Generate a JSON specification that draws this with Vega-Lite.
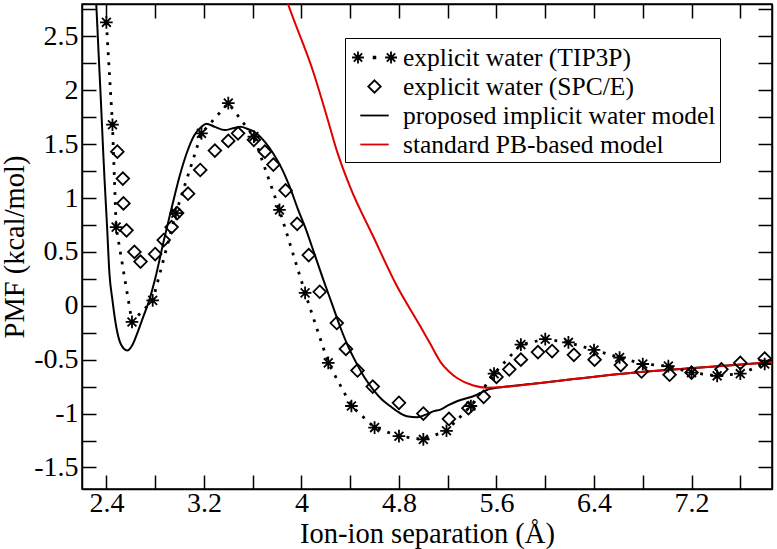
{
  "$schema": "https://vega.github.io/schema/vega-lite/v6.json",
  "width": 690,
  "height": 485,
  "autosize": {"type": "none"},
  "padding": {"left": 82, "top": 4, "right": 5, "bottom": 60},
  "background": "white",
  "config": {
    "font": "Liberation Serif",
    "view": {"stroke": "black", "strokeWidth": 1.5},
    "axis": {"grid": false}
  },
  "data": {"values": [
    {"series": "explicit water (TIP3P)", "x": 2.40, "y": 2.63},
    {"series": "explicit water (TIP3P)", "x": 2.45, "y": 1.68},
    {"series": "explicit water (TIP3P)", "x": 2.48, "y": 0.73},
    {"series": "explicit water (TIP3P)", "x": 2.61, "y": -0.15},
    {"series": "explicit water (TIP3P)", "x": 2.78, "y": 0.05},
    {"series": "explicit water (TIP3P)", "x": 2.97, "y": 0.86},
    {"series": "explicit water (TIP3P)", "x": 3.18, "y": 1.60},
    {"series": "explicit water (TIP3P)", "x": 3.40, "y": 1.88},
    {"series": "explicit water (TIP3P)", "x": 3.61, "y": 1.57},
    {"series": "explicit water (TIP3P)", "x": 3.82, "y": 0.89},
    {"series": "explicit water (TIP3P)", "x": 4.03, "y": 0.12},
    {"series": "explicit water (TIP3P)", "x": 4.22, "y": -0.53},
    {"series": "explicit water (TIP3P)", "x": 4.41, "y": -0.93},
    {"series": "explicit water (TIP3P)", "x": 4.60, "y": -1.13},
    {"series": "explicit water (TIP3P)", "x": 4.80, "y": -1.21},
    {"series": "explicit water (TIP3P)", "x": 5.00, "y": -1.24},
    {"series": "explicit water (TIP3P)", "x": 5.19, "y": -1.16},
    {"series": "explicit water (TIP3P)", "x": 5.39, "y": -0.93},
    {"series": "explicit water (TIP3P)", "x": 5.58, "y": -0.63},
    {"series": "explicit water (TIP3P)", "x": 5.80, "y": -0.36},
    {"series": "explicit water (TIP3P)", "x": 6.00, "y": -0.31},
    {"series": "explicit water (TIP3P)", "x": 6.19, "y": -0.34},
    {"series": "explicit water (TIP3P)", "x": 6.40, "y": -0.41},
    {"series": "explicit water (TIP3P)", "x": 6.61, "y": -0.48},
    {"series": "explicit water (TIP3P)", "x": 6.80, "y": -0.54},
    {"series": "explicit water (TIP3P)", "x": 7.01, "y": -0.56},
    {"series": "explicit water (TIP3P)", "x": 7.20, "y": -0.62},
    {"series": "explicit water (TIP3P)", "x": 7.41, "y": -0.65},
    {"series": "explicit water (TIP3P)", "x": 7.60, "y": -0.63},
    {"series": "explicit water (TIP3P)", "x": 7.80, "y": -0.54},

    {"series": "explicit water (SPC/E)", "x": 2.49, "y": 1.43},
    {"series": "explicit water (SPC/E)", "x": 2.535, "y": 1.18},
    {"series": "explicit water (SPC/E)", "x": 2.54, "y": 0.95},
    {"series": "explicit water (SPC/E)", "x": 2.565, "y": 0.70},
    {"series": "explicit water (SPC/E)", "x": 2.63, "y": 0.50},
    {"series": "explicit water (SPC/E)", "x": 2.68, "y": 0.41},
    {"series": "explicit water (SPC/E)", "x": 2.80, "y": 0.48},
    {"series": "explicit water (SPC/E)", "x": 2.87, "y": 0.61},
    {"series": "explicit water (SPC/E)", "x": 2.935, "y": 0.73},
    {"series": "explicit water (SPC/E)", "x": 2.98, "y": 0.86},
    {"series": "explicit water (SPC/E)", "x": 3.07, "y": 1.04},
    {"series": "explicit water (SPC/E)", "x": 3.17, "y": 1.26},
    {"series": "explicit water (SPC/E)", "x": 3.29, "y": 1.44},
    {"series": "explicit water (SPC/E)", "x": 3.40, "y": 1.53},
    {"series": "explicit water (SPC/E)", "x": 3.48, "y": 1.60},
    {"series": "explicit water (SPC/E)", "x": 3.61, "y": 1.54},
    {"series": "explicit water (SPC/E)", "x": 3.70, "y": 1.43},
    {"series": "explicit water (SPC/E)", "x": 3.77, "y": 1.31},
    {"series": "explicit water (SPC/E)", "x": 3.87, "y": 1.07},
    {"series": "explicit water (SPC/E)", "x": 3.965, "y": 0.76},
    {"series": "explicit water (SPC/E)", "x": 4.06, "y": 0.47},
    {"series": "explicit water (SPC/E)", "x": 4.15, "y": 0.13},
    {"series": "explicit water (SPC/E)", "x": 4.29, "y": -0.16},
    {"series": "explicit water (SPC/E)", "x": 4.365, "y": -0.40},
    {"series": "explicit water (SPC/E)", "x": 4.46, "y": -0.60},
    {"series": "explicit water (SPC/E)", "x": 4.585, "y": -0.75},
    {"series": "explicit water (SPC/E)", "x": 4.80, "y": -0.90},
    {"series": "explicit water (SPC/E)", "x": 5.00, "y": -1.00},
    {"series": "explicit water (SPC/E)", "x": 5.21, "y": -1.05},
    {"series": "explicit water (SPC/E)", "x": 5.37, "y": -0.95},
    {"series": "explicit water (SPC/E)", "x": 5.495, "y": -0.845},
    {"series": "explicit water (SPC/E)", "x": 5.60, "y": -0.66},
    {"series": "explicit water (SPC/E)", "x": 5.705, "y": -0.59},
    {"series": "explicit water (SPC/E)", "x": 5.80, "y": -0.50},
    {"series": "explicit water (SPC/E)", "x": 5.94, "y": -0.43},
    {"series": "explicit water (SPC/E)", "x": 6.056, "y": -0.42},
    {"series": "explicit water (SPC/E)", "x": 6.235, "y": -0.455},
    {"series": "explicit water (SPC/E)", "x": 6.405, "y": -0.50},
    {"series": "explicit water (SPC/E)", "x": 6.62, "y": -0.55},
    {"series": "explicit water (SPC/E)", "x": 6.79, "y": -0.61},
    {"series": "explicit water (SPC/E)", "x": 7.02, "y": -0.64},
    {"series": "explicit water (SPC/E)", "x": 7.20, "y": -0.62},
    {"series": "explicit water (SPC/E)", "x": 7.445, "y": -0.59},
    {"series": "explicit water (SPC/E)", "x": 7.60, "y": -0.53},
    {"series": "explicit water (SPC/E)", "x": 7.80, "y": -0.49},

    {"series": "proposed implicit water model", "x": 2.30, "y": 3.10},
    {"series": "proposed implicit water model", "x": 2.317, "y": 2.80},
    {"series": "proposed implicit water model", "x": 2.335, "y": 2.37},
    {"series": "proposed implicit water model", "x": 2.355, "y": 1.90},
    {"series": "proposed implicit water model", "x": 2.373, "y": 1.45},
    {"series": "proposed implicit water model", "x": 2.385, "y": 1.17},
    {"series": "proposed implicit water model", "x": 2.405, "y": 0.75},
    {"series": "proposed implicit water model", "x": 2.425, "y": 0.30},
    {"series": "proposed implicit water model", "x": 2.45, "y": 0.05},
    {"series": "proposed implicit water model", "x": 2.48, "y": -0.19},
    {"series": "proposed implicit water model", "x": 2.52, "y": -0.36},
    {"series": "proposed implicit water model", "x": 2.57, "y": -0.414},
    {"series": "proposed implicit water model", "x": 2.61, "y": -0.37},
    {"series": "proposed implicit water model", "x": 2.645, "y": -0.28},
    {"series": "proposed implicit water model", "x": 2.70, "y": -0.11},
    {"series": "proposed implicit water model", "x": 2.753, "y": 0.056},
    {"series": "proposed implicit water model", "x": 2.80, "y": 0.25},
    {"series": "proposed implicit water model", "x": 2.87, "y": 0.60},
    {"series": "proposed implicit water model", "x": 2.94, "y": 0.93},
    {"series": "proposed implicit water model", "x": 3.00, "y": 1.20},
    {"series": "proposed implicit water model", "x": 3.06, "y": 1.42},
    {"series": "proposed implicit water model", "x": 3.12, "y": 1.58},
    {"series": "proposed implicit water model", "x": 3.18, "y": 1.66},
    {"series": "proposed implicit water model", "x": 3.22, "y": 1.69},
    {"series": "proposed implicit water model", "x": 3.29, "y": 1.66},
    {"series": "proposed implicit water model", "x": 3.37, "y": 1.63},
    {"series": "proposed implicit water model", "x": 3.45, "y": 1.65},
    {"series": "proposed implicit water model", "x": 3.50, "y": 1.66},
    {"series": "proposed implicit water model", "x": 3.56, "y": 1.64},
    {"series": "proposed implicit water model", "x": 3.62, "y": 1.61},
    {"series": "proposed implicit water model", "x": 3.70, "y": 1.52},
    {"series": "proposed implicit water model", "x": 3.77, "y": 1.41},
    {"series": "proposed implicit water model", "x": 3.84, "y": 1.27},
    {"series": "proposed implicit water model", "x": 3.905, "y": 1.10},
    {"series": "proposed implicit water model", "x": 3.97, "y": 0.90},
    {"series": "proposed implicit water model", "x": 4.04, "y": 0.70},
    {"series": "proposed implicit water model", "x": 4.11, "y": 0.47},
    {"series": "proposed implicit water model", "x": 4.18, "y": 0.24},
    {"series": "proposed implicit water model", "x": 4.25, "y": 0.02},
    {"series": "proposed implicit water model", "x": 4.316, "y": -0.19},
    {"series": "proposed implicit water model", "x": 4.38, "y": -0.37},
    {"series": "proposed implicit water model", "x": 4.45, "y": -0.53},
    {"series": "proposed implicit water model", "x": 4.52, "y": -0.67},
    {"series": "proposed implicit water model", "x": 4.59, "y": -0.78},
    {"series": "proposed implicit water model", "x": 4.66, "y": -0.87},
    {"series": "proposed implicit water model", "x": 4.727, "y": -0.93},
    {"series": "proposed implicit water model", "x": 4.80, "y": -0.99},
    {"series": "proposed implicit water model", "x": 4.864, "y": -1.025},
    {"series": "proposed implicit water model", "x": 4.95, "y": -1.034},
    {"series": "proposed implicit water model", "x": 5.02, "y": -1.01},
    {"series": "proposed implicit water model", "x": 5.08, "y": -0.98},
    {"series": "proposed implicit water model", "x": 5.14, "y": -0.963},
    {"series": "proposed implicit water model", "x": 5.21, "y": -0.92},
    {"series": "proposed implicit water model", "x": 5.276, "y": -0.886},
    {"series": "proposed implicit water model", "x": 5.41, "y": -0.84},
    {"series": "proposed implicit water model", "x": 5.55, "y": -0.77},
    {"series": "proposed implicit water model", "x": 5.687, "y": -0.75},
    {"series": "proposed implicit water model", "x": 5.96, "y": -0.716},
    {"series": "proposed implicit water model", "x": 6.235, "y": -0.68},
    {"series": "proposed implicit water model", "x": 6.51, "y": -0.645},
    {"series": "proposed implicit water model", "x": 6.78, "y": -0.615},
    {"series": "proposed implicit water model", "x": 7.00, "y": -0.595},
    {"series": "proposed implicit water model", "x": 7.50, "y": -0.555},
    {"series": "proposed implicit water model", "x": 7.90, "y": -0.52},

    {"series": "standard PB-based model", "x": 3.86, "y": 2.90},
    {"series": "standard PB-based model", "x": 3.89, "y": 2.80},
    {"series": "standard PB-based model", "x": 4.10, "y": 2.16},
    {"series": "standard PB-based model", "x": 4.21, "y": 1.75},
    {"series": "standard PB-based model", "x": 4.29, "y": 1.44},
    {"series": "standard PB-based model", "x": 4.40, "y": 1.10},
    {"series": "standard PB-based model", "x": 4.59, "y": 0.64},
    {"series": "standard PB-based model", "x": 4.78, "y": 0.19},
    {"series": "standard PB-based model", "x": 4.975, "y": -0.19},
    {"series": "standard PB-based model", "x": 5.06, "y": -0.36},
    {"series": "standard PB-based model", "x": 5.14, "y": -0.52},
    {"series": "standard PB-based model", "x": 5.21, "y": -0.61},
    {"series": "standard PB-based model", "x": 5.276, "y": -0.67},
    {"series": "standard PB-based model", "x": 5.41, "y": -0.74},
    {"series": "standard PB-based model", "x": 5.52, "y": -0.76},
    {"series": "standard PB-based model", "x": 5.687, "y": -0.75},
    {"series": "standard PB-based model", "x": 5.96, "y": -0.716},
    {"series": "standard PB-based model", "x": 6.235, "y": -0.68},
    {"series": "standard PB-based model", "x": 6.51, "y": -0.645},
    {"series": "standard PB-based model", "x": 6.78, "y": -0.615},
    {"series": "standard PB-based model", "x": 7.00, "y": -0.595},
    {"series": "standard PB-based model", "x": 7.50, "y": -0.555},
    {"series": "standard PB-based model", "x": 7.90, "y": -0.52}
  ]},
  "resolve": {"axis": {"x": "independent", "y": "independent"}},
  "layer": [
    {
      "transform": [{"filter": "datum.series == 'proposed implicit water model'"}],
      "mark": {"type": "line", "color": "black", "strokeWidth": 2, "interpolate": "monotone", "clip": true},
      "encoding": {
        "x": {"field": "x", "type": "quantitative", "scale": {"domain": [2.2, 7.86], "nice": false, "zero": false},
          "axis": {"orient": "bottom", "values": [2.4, 2.8, 3.2, 3.6, 4, 4.4, 4.8, 5.2, 5.6, 6, 6.4, 6.8, 7.2, 7.6], "format": "~g",
            "labelExpr": "round(datum.value*10) % 8 == 0 ? replace(datum.label, '−', '-') : ''",
            "tickSize": -14, "labelPadding": 14.5, "labelFont": "Liberation Serif", "labelFontSize": 28, "labelColor": "black",
            "labelOverlap": false, "labelFlush": false,
            "title": "Ion-ion separation (Å)", "titleFont": "Liberation Serif", "titleFontSize": 28.5, "titleFontWeight": "normal", "titleColor": "black", "titlePadding": 2,
            "domainColor": "black", "domainWidth": 1.5, "tickColor": "black", "tickWidth": 1.5,
            "encode": {"ticks": {"y2": {"value": {"expr": "round(datum.value*10) % 8 == 0 ? -14 : -8"}}}}}},
        "y": {"field": "y", "type": "quantitative", "scale": {"domain": [-1.7, 2.8], "nice": false, "zero": false},
          "axis": {"orient": "left", "values": [-1.5, -1.25, -1, -0.75, -0.5, -0.25, 0, 0.25, 0.5, 0.75, 1, 1.25, 1.5, 1.75, 2, 2.25, 2.5, 2.75], "format": "~g",
            "labelExpr": "round(datum.value*4) % 2 == 0 ? replace(datum.label, '−', '-') : ''",
            "tickSize": -14, "labelPadding": 18, "labelFont": "Liberation Serif", "labelFontSize": 28, "labelColor": "black",
            "labelOverlap": false, "labelFlush": false,
            "title": "PMF (kcal/mol)", "titleFont": "Liberation Serif", "titleFontSize": 28.5, "titleFontWeight": "normal", "titleColor": "black", "titlePadding": 4,
            "domainColor": "black", "domainWidth": 1.5, "tickColor": "black", "tickWidth": 1.5,
            "encode": {"ticks": {"x2": {"value": {"expr": "round(datum.value*4) % 2 == 0 ? 14 : 8"}}}}}}
      }
    },
    {
      "transform": [{"filter": "datum.series == 'standard PB-based model'"}],
      "mark": {"type": "line", "color": "#e00000", "strokeWidth": 2, "interpolate": "monotone", "clip": true},
      "encoding": {
        "x": {"field": "x", "type": "quantitative",
          "axis": {"orient": "top", "values": [2.4, 2.8, 3.2, 3.6, 4, 4.4, 4.8, 5.2, 5.6, 6, 6.4, 6.8, 7.2, 7.6],
            "labels": false, "title": null, "tickSize": -14,
            "domainColor": "black", "domainWidth": 1.5, "tickColor": "black", "tickWidth": 1.5,
            "encode": {"ticks": {"y2": {"value": {"expr": "round(datum.value*10) % 8 == 0 ? 14 : 8"}}}}}},
        "y": {"field": "y", "type": "quantitative",
          "axis": {"orient": "right", "values": [-1.5, -1.25, -1, -0.75, -0.5, -0.25, 0, 0.25, 0.5, 0.75, 1, 1.25, 1.5, 1.75, 2, 2.25, 2.5, 2.75],
            "labels": false, "title": null, "tickSize": -14,
            "domainColor": "black", "domainWidth": 1.5, "tickColor": "black", "tickWidth": 1.5,
            "encode": {"ticks": {"x2": {"value": {"expr": "round(datum.value*4) % 2 == 0 ? -14 : -8"}}}}}}
      }
    },
    {
      "transform": [{"filter": "datum.series == 'explicit water (TIP3P)'"}],
      "mark": {"type": "line", "color": "black", "strokeWidth": 2.8, "strokeDash": [2.8, 7.2], "clip": true},
      "encoding": {
        "x": {"field": "x", "type": "quantitative", "axis": null},
        "y": {"field": "y", "type": "quantitative", "axis": null}
      }
    },
    {
      "transform": [{"filter": "datum.series == 'explicit water (TIP3P)'"}],
      "mark": {"type": "point", "shape": "M-1,0L1,0M0,-1L0,1M-0.7,-0.7L0.7,0.7M-0.7,0.7L0.7,-0.7", "filled": false, "color": "black", "size": 160, "strokeWidth": 1.8, "opacity": 1, "clip": true},
      "encoding": {
        "x": {"field": "x", "type": "quantitative", "axis": null},
        "y": {"field": "y", "type": "quantitative", "axis": null}
      }
    },
    {
      "transform": [{"filter": "datum.series == 'explicit water (SPC/E)'"}],
      "mark": {"type": "point", "shape": "diamond", "filled": false, "color": "black", "size": 160, "strokeWidth": 1.8, "opacity": 1, "clip": true},
      "encoding": {
        "x": {"field": "x", "type": "quantitative", "axis": null},
        "y": {"field": "y", "type": "quantitative", "axis": null}
      }
    },
    {
      "transform": [{"filter": "datum.x > 100"}],
      "mark": {"type": "point", "filled": false, "size": 841, "strokeWidth": 1.8, "opacity": 1},
      "encoding": {
        "x": {"field": "x", "type": "quantitative", "axis": null},
        "y": {"field": "y", "type": "quantitative", "axis": null},
        "shape": {"field": "series", "type": "nominal",
          "scale": {"domain": ["explicit water (TIP3P)", "explicit water (SPC/E)", "proposed implicit water model", "standard PB-based model"],
            "range": [
              "M-1.55,0L-0.73,0M-1.14,-0.41L-1.14,0.41M-1.43,-0.29L-0.85,0.29M-1.43,0.29L-0.85,-0.29M0.73,0L1.55,0M1.14,-0.41L1.14,0.41M0.85,-0.29L1.43,0.29M0.85,0.29L1.43,-0.29M-0.06,-0.06L0.06,-0.06L0.06,0.06L-0.06,0.06Z",
              "M0,-0.43L0.43,0L0,0.43L-0.43,0Z",
              "M-0.98,0L0.98,0",
              "M-0.98,0L0.98,0"]},
          "legend": {"orient": "none", "legendX": 263, "legendY": 34, "title": null,
            "strokeColor": "black", "fillColor": "white", "padding": 4,
            "labelFont": "Liberation Serif", "labelFontSize": 25.5, "labelColor": "black", "labelLimit": 1000,
            "labelExpr": "datum.label + '\u00a0\u00a0\u00a0\u00a0'",
            "symbolSize": 841, "symbolStrokeWidth": 1.8, "symbolOffset": 10, "labelOffset": 13, "rowPadding": 0}},
        "color": {"field": "series", "type": "nominal",
          "scale": {"domain": ["explicit water (TIP3P)", "explicit water (SPC/E)", "proposed implicit water model", "standard PB-based model"],
            "range": ["black", "black", "black", "#e00000"]},
          "legend": {"orient": "none", "legendX": 263, "legendY": 34, "title": null,
            "strokeColor": "black", "fillColor": "white", "padding": 4,
            "labelFont": "Liberation Serif", "labelFontSize": 25.5, "labelColor": "black", "labelLimit": 1000,
            "labelExpr": "datum.label + '\u00a0\u00a0\u00a0\u00a0'",
            "symbolSize": 841, "symbolStrokeWidth": 1.8, "symbolOffset": 10, "labelOffset": 13, "rowPadding": 0}}
      }
    }
  ]
}
